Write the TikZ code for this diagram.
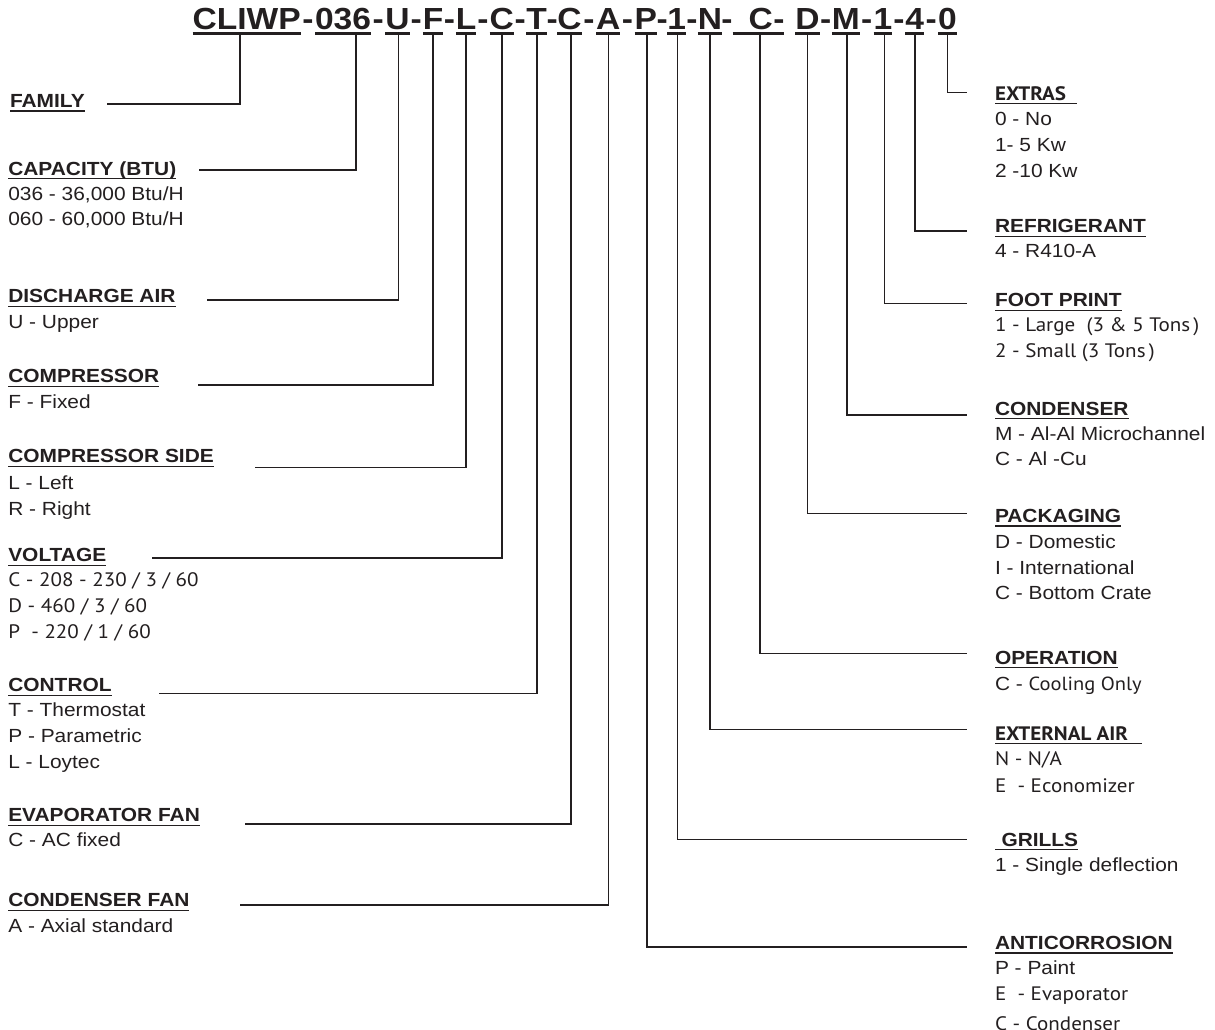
\documentclass[tikz,border=0pt]{standalone}
\usepackage{fontspec}
\setmainfont{Liberation Sans}
\newfontfamily\arfont[FakeStretch=1.1]{Liberation Sans}
\newfontfamily\ptfont[FakeStretch=1.08]{PT Sans}
\definecolor{ink}{HTML}{231F20}
\begin{document}
\begin{tikzpicture}[x=1pt,y=-1pt,
  every node/.style={inner sep=0pt, outer sep=0pt, text=ink},
  seg/.style={font=\arfont\bfseries\fontsize{30.5}{36}\selectfont, anchor=base},
  hd/.style={font=\arfont\bfseries\fontsize{19}{23}\selectfont, anchor=base west},
  pthd/.style={font=\ptfont\bfseries\fontsize{19.5}{23}\selectfont, anchor=base west},
  itm/.style={font=\arfont\fontsize{19}{23}\selectfont, anchor=base west},
  ptitm/.style={font=\ptfont\fontsize{19.5}{23}\selectfont, anchor=base west},
  conn/.style={draw=ink, line width=1.6pt},
  ul/.style={draw=ink, line width=1.4pt},
  tul/.style={draw=ink, line width=2.4pt}]
\useasboundingbox (0,0) rectangle (1215,1029);
\fill[white] (0,0) rectangle (1215,1029);

% ---------- title code ----------
\foreach \n/\x/\t in {s1/246.7/CLIWP, s2/343/036, s3/397.5/U, s4/433/F, s5/466/L,
  s6/501.7/C, s7/536.7/T, s8/569.5/C, s9/608.3/A, s10/645.8/P, s11/676.7/1,
  s12/710/N, s13/760.8/C, s14/807.5/D, s15/845.8/M, s16/883/1, s17/914.7/4, s18/947.5/0}
  \node[seg, name=\n] at (\x,29.3) {\t};
\foreach \n in {s1,s2,s3,s4,s5,s6,s7,s8,s9,s10,s11,s12,s14,s15,s16,s17,s18}
  \draw[tul] ([yshift=-4.2pt]\n.base west) -- ([yshift=-4.2pt]\n.base east);
\draw[tul] ([xshift=-16pt,yshift=-4.2pt]s13.base west) -- ([xshift=11pt,yshift=-4.2pt]s13.base east);
\foreach \a/\b/\h in {s1/s2/h1, s2/s3/h2, s3/s4/h3, s4/s5/h4, s5/s6/h5, s6/s7/h6,
  s7/s8/h7, s8/s9/h8, s9/s10/h9, s10/s11/h10, s11/s12/h11,
  s14/s15/h14, s15/s16/h15, s16/s17/h16, s17/s18/h17}
  \path (\a.base east) -- (\b.base west) node[seg, midway, name=\h] {-};
\node[seg, name=h12] at (727,29.3) {-};
\node[seg, name=h13] at (779,29.3) {-};

% ---------- left labels ----------
\node[hd, name=hFam] at (10,107.3) {FAMILY};
\node[hd, name=hCap] at (8.3,175) {CAPACITY (BTU)};
\node[itm, name=iCap1] at (8.3,200) {036 - 36,000 Btu/H};
\node[itm, name=iCap2] at (8.3,225.7) {060 - 60,000 Btu/H};
\node[hd, name=hDis] at (8.3,302.7) {DISCHARGE AIR};
\node[itm, name=iDis1] at (8.3,328.3) {U - Upper};
\node[hd, name=hCmp] at (8.3,382.7) {COMPRESSOR};
\node[itm, name=iCmp1] at (8.3,408.3) {F - Fixed};
\node[hd, name=hSide] at (8.3,462.7) {COMPRESSOR SIDE};
\node[itm, name=iSide1] at (8.3,489.3) {L - Left};
\node[itm, name=iSide2] at (8.3,515) {R - Right};
\node[hd, name=hVol] at (8.3,561.7) {VOLTAGE};
\node[ptitm, name=iVol1] at (8.3,586.7) {C - 208 - 230 / 3 / 60};
\node[ptitm, name=iVol2] at (8.3,612.7) {D - 460 / 3 / 60};
\node[ptitm, name=iVol3] at (8.3,638.3) {P~~- 220 / 1 / 60};
\node[hd, name=hCtl] at (8.3,691.7) {CONTROL};
\node[itm, name=iCtl1] at (8.3,716) {T - Thermostat};
\node[itm, name=iCtl2] at (8.3,742) {P - Parametric};
\node[itm, name=iCtl3] at (8.3,768.3) {L - Loytec};
\node[hd, name=hEvf] at (8.3,821.7) {EVAPORATOR FAN};
\node[itm, name=iEvf1] at (8.3,846.7) {C - AC fixed};
\node[hd, name=hCdf] at (8.3,906.7) {CONDENSER FAN};
\node[itm, name=iCdf1] at (8.3,932.7) {A - Axial standard};

% ---------- right labels ----------
\node[pthd, name=hExt] at (995,100) {EXTRAS\hspace*{11pt}};
\node[itm, name=iExt1] at (995,125.7) {0 - No};
\node[itm, name=iExt2] at (995,151.7) {1- 5 Kw};
\node[itm, name=iExt3] at (995,177.3) {2 -10 Kw};
\node[hd, name=hRef] at (995,232.7) {REFRIGERANT};
\node[itm, name=iRef1] at (995,257.3) {4 - R410-A};
\node[hd, name=hFoot] at (995,306.7) {FOOT PRINT};
\node[ptitm, name=iFoot1] at (995,331.7) {1 - Large~~(3 \& 5 Tons\,)};
\node[ptitm, name=iFoot2] at (995,357.3) {2 - Small (3 Tons\,)};
\node[hd, name=hCond] at (995,415) {CONDENSER};
\node[itm, name=iCond1] at (995,440) {M - Al-Al Microchannel};
\node[itm, name=iCond2] at (995,465) {C - Al -Cu};
\node[hd, name=hPack] at (995,522.3) {PACKAGING};
\node[itm, name=iPack1] at (995,548.3) {D - Domestic};
\node[itm, name=iPack2] at (995,574) {I - International};
\node[itm, name=iPack3] at (995,599) {C - Bottom Crate};
\node[hd, name=hOper] at (995,664) {OPERATION};
\node[itm, name=iOper1] at (995,690) {C - {\ptfont Cooling Only}};
\node[pthd, name=hXair] at (995,740) {EXTERNAL AIR\hspace*{14pt}};
\node[ptitm, name=iXair1] at (995,765) {N - N/A};
\node[ptitm, name=iXair2] at (995,792.3) {E~~- Economizer};
\node[hd, name=hGril] at (995,846) {\hspace*{6.5pt}GRILLS};
\node[itm, name=iGril1] at (995,871) {1 - Single deflection};
\node[hd, name=hAnti] at (995,949.3) {ANTICORROSION};
\node[itm, name=iAnti1] at (995,974.3) {P - Paint};
\node[ptitm, name=iAnti2] at (995,1000) {E~~- Evaporator};
\node[ptitm, name=iAnti3] at (995,1030) {C - Condenser};

% heading underlines
\foreach \n in {hFam,hCap,hDis,hCmp,hSide,hVol,hCtl,hEvf,hCdf,
  hExt,hRef,hFoot,hCond,hPack,hOper,hXair,hGril,hAnti}
  \draw[ul] ([yshift=-3.6pt]\n.base west) -- ([yshift=-3.6pt]\n.base east);

% ---------- connectors ----------
\foreach \n/\dx/\c/\x/\y in {
  s1/-6.7/cFam/107/104, s2/12.7/cCap/199.3/170, s3/0.8/cDis/207.3/300,
  s4/0/cCmp/198.3/385, s5/0/cSide/255/467.3, s6/0/cVol/151.7/557.7,
  s7/0/cCtl/159/693.3, s8/1.2/cEvf/245/824, s9/0/cCdf/240/905,
  s10/0.9/cAnti/967.3/946.7, s11/0.6/cGril/967.3/839.3, s12/0/cXair/967.3/729.3,
  s13/-0.8/cOper/967.3/653.3, s14/0/cPack/967.3/513.3, s15/0.9/cCond/967.3/415,
  s16/1.3/cFoot/967.3/303.3, s17/0/cRef/967.3/230.7, s18/0/cExt/967.3/92.3}
{
  \coordinate (\c) at (\x,\y);
  \draw[conn] ([xshift=\dx pt,yshift=-4.2pt]\n.base) |- (\c);
}
\end{tikzpicture}
\end{document}
